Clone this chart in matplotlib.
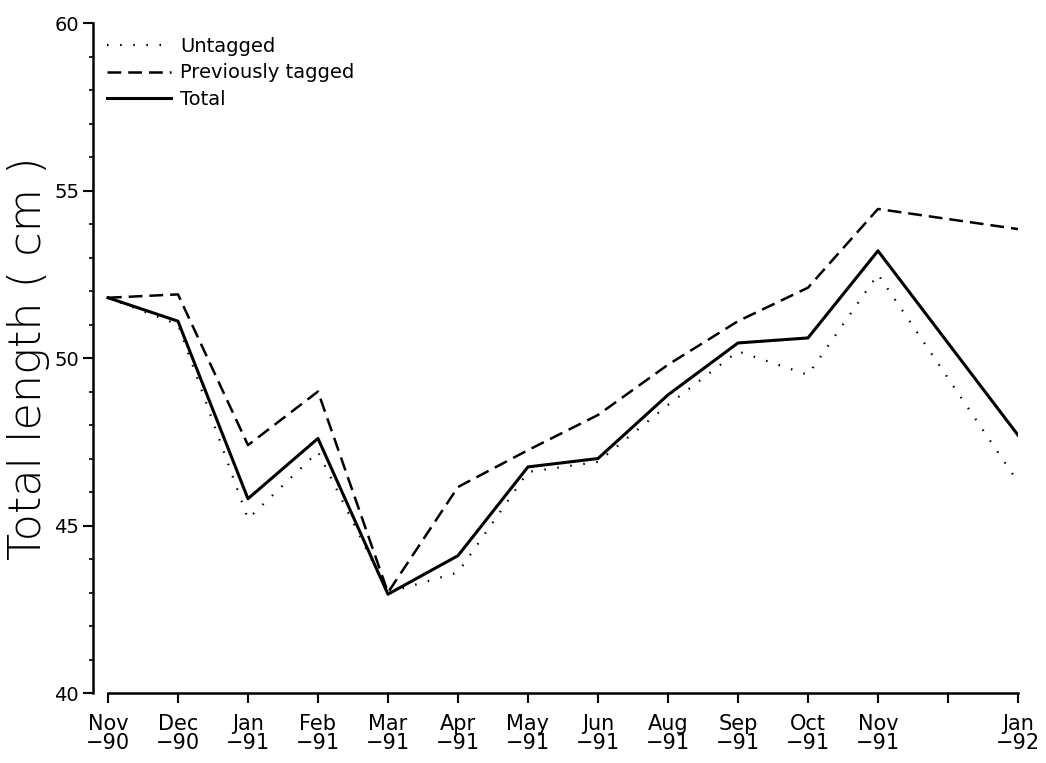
import numpy as np
import matplotlib
matplotlib.use("Agg")
import matplotlib.pyplot as plt

# months along the x axis (index 12 = Dec-91, tick only, no data)
months = ["Nov\n\u221290", "Dec\n\u221290", "Jan\n\u221291", "Feb\n\u221291", "Mar\n\u221291",
          "Apr\n\u221291", "May\n\u221291", "Jun\n\u221291", "Aug\n\u221291", "Sep\n\u221291",
          "Oct\n\u221291", "Nov\n\u221291", "", "Jan\n\u221292"]
x_pos = [0, 1, 2, 3, 4, 5, 6, 7, 8, 9, 10, 11, 13]

untagged = [51.8, 51.0, 45.2, 47.2, 43.0, 43.6, 46.6, 46.9, 48.6, 50.2, 49.5, 52.5, 46.3]
prev_tagged = [51.8, 51.9, 47.4, 49.0, 43.0, 46.15, 47.25, 48.3, 49.8, 51.1, 52.1, 54.45, 53.85]
total = [51.8, 51.1, 45.8, 47.6, 42.95, 44.1, 46.75, 47.0, 48.9, 50.45, 50.6, 53.2, 47.7]

fig = plt.figure(figsize=(10.46, 7.63), dpi=100)
ax = fig.add_axes([0.0889, 0.0917, 0.8843, 0.8781])

ax.plot(x_pos, untagged, color="black", lw=1.6, ls=(0, (0.7, 5.2)), label="Untagged")
ax.plot(x_pos, prev_tagged, color="black", lw=1.8, ls=(0, (5.5, 2.8)), label="Previously tagged")
ax.plot(x_pos, total, color="black", lw=2.2, label="Total")

ax.set_xlim(-0.214, 13)
ax.set_ylim(40, 60)

ax.spines["top"].set_visible(False)
ax.spines["right"].set_visible(False)
ax.spines["bottom"].set_bounds(0, 13)
ax.spines["left"].set_linewidth(1.8)
ax.spines["bottom"].set_linewidth(1.8)

ax.set_xticks(range(len(months)))
ax.set_xticklabels(months, fontsize=15, linespacing=0.95)
ax.set_yticks([40, 45, 50, 55, 60])
ax.set_yticks(np.arange(40, 61, 1), minor=True)
ax.tick_params(axis="y", which="major", direction="out", length=7, width=1.5, labelsize=14, pad=3)
ax.tick_params(axis="y", which="minor", direction="out", length=3, width=1.2)
ax.tick_params(axis="x", direction="out", length=7, width=1.5, pad=8)

ax.set_ylabel("Total length ( cm )", fontsize=32, fontweight="light")
ax.yaxis.set_label_coords(-0.046, 0.5)

ax.legend(loc="upper left", bbox_to_anchor=(0.0, 1.0), frameon=False, fontsize=14,
          handlelength=3.3, handletextpad=0.5, labelspacing=0.4, borderaxespad=0.5,
          borderpad=0.2)

fig.savefig("out.png", dpi=100)
